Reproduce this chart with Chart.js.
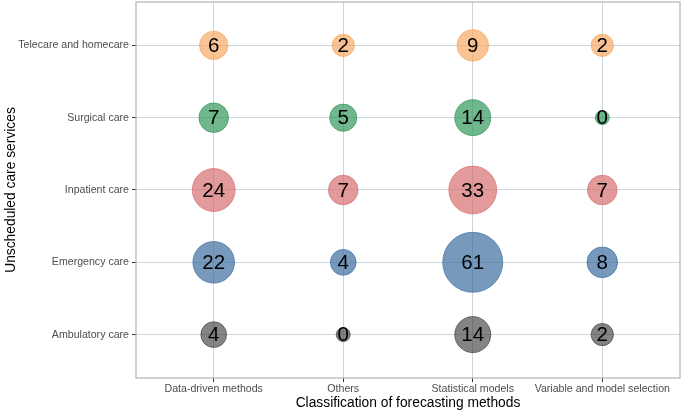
<!DOCTYPE html>
<html>
<head>
<meta charset="utf-8">
<script src="https://cdn.jsdelivr.net/npm/chart.js@4"></script>
<style>
html,body{margin:0;padding:0;background:#fff;}
#wrap{width:683px;height:413px;position:relative;}
</style>
</head>
<body>
<div id="wrap"><canvas id="c" width="683" height="413"></canvas></div>
<script>
const methods = ["Data-driven methods", "Others", "Statistical models", "Variable and model selection"];
const services = ["Ambulatory care", "Emergency care", "Inpatient care", "Surgical care", "Telecare and homecare"];
const ambulatory = [4, 0, 14, 2];
const emergency = [22, 4, 61, 8];
const inpatient = [24, 7, 33, 7];
const surgical = [7, 5, 14, 0];
const telecare = [6, 2, 9, 2];
const seriesValues = [ambulatory, emergency, inpatient, surgical, telecare];

const fills = ["rgba(50,50,50,0.6)", "rgba(60,110,160,0.7)", "rgba(214,106,106,0.68)", "rgba(46,149,87,0.68)", "rgba(247,167,96,0.68)"];
const borders = ["rgba(50,50,50,0.75)", "rgba(60,110,160,0.85)", "rgba(214,106,106,0.85)", "rgba(46,149,87,0.85)", "rgba(247,167,96,0.85)"];

const maxVal = Math.max(...seriesValues.flat());
const rMin = 7, rMax = 30;
function sizeScale(v){ return rMin + (rMax - rMin) * Math.sqrt(v / maxVal); }

const datasets = services.map((s, j) => ({
  label: s,
  data: seriesValues[j].map((v, i) => ({x: i, y: j, v: v})),
  backgroundColor: fills[j],
  borderColor: borders[j],
  borderWidth: 0.8,
  radius: ctx => sizeScale(ctx.raw.v),
  hoverRadius: 0,
  clip: false
}));

const labelPlugin = {
  id: 'labels',
  afterDatasetsDraw(chart){
    const ctx = chart.ctx;
    ctx.save();
    ctx.fillStyle = '#000';
    ctx.font = '20.5px "Liberation Sans", Arial, sans-serif';
    ctx.textAlign = 'center';
    ctx.textBaseline = 'middle';
    chart.data.datasets.forEach((ds, di) => {
      const meta = chart.getDatasetMeta(di);
      meta.data.forEach((el, i) => {
        ctx.fillText(String(ds.data[i].v), el.x, el.y + 1);
      });
    });
    ctx.restore();
  }
};
const borderPlugin = {
  id: 'panelBorder',
  afterDraw(chart){
    const a = chart.chartArea, ctx = chart.ctx;
    ctx.save();
    ctx.strokeStyle = '#b3b3b3';
    ctx.lineWidth = 1.2;
    ctx.strokeRect(a.left, a.top, a.right - a.left, a.bottom - a.top);
    ctx.restore();
  }
};

const tickFont = {family: '"Liberation Sans", Arial, sans-serif', size: 10.6};
const titleFont = {family: '"Liberation Sans", Arial, sans-serif', size: 13.8};

new Chart(document.getElementById('c'), {
  type: 'bubble',
  data: {datasets},
  plugins: [labelPlugin, borderPlugin],
  options: {
    responsive: false,
    animation: false,
    events: [],
    layout: {autoPadding: false, padding: {top: 2, right: 3, left: 0, bottom: 0}},
    plugins: {legend: {display: false}, tooltip: {enabled: false}},
    scales: {
      x: {
        type: 'linear', min: -0.6, max: 3.6,
        afterBuildTicks: s => { s.ticks = methods.map((m, i) => ({value: i})); },
        afterFit: s => { s.height = 35; s.paddingRight = 0; s.paddingLeft = 0; },
        ticks: {callback: v => methods[v], color: '#4d4d4d', font: tickFont, padding: 1, maxRotation: 0, autoSkip: false},
        grid: {color: '#cbd7de', lineWidth: 1, tickColor: '#333', tickLength: 4, drawOnChartArea: true},
        border: {display: false},
        title: {display: true, text: 'Classification of forecasting methods', color: '#000', font: titleFont, padding: {top: 0, bottom: 2}}
      },
      y: {
        type: 'linear', min: -0.6, max: 4.6,
        afterBuildTicks: s => { s.ticks = services.map((m, i) => ({value: i})); },
        afterFit: s => { s.width = 136; s.paddingTop = 0; s.paddingBottom = 0; },
        ticks: {callback: v => services[v], color: '#4d4d4d', font: tickFont, padding: 3, autoSkip: false},
        grid: {color: '#cbd7de', lineWidth: 1, tickColor: '#333', tickLength: 4},
        border: {display: false},
        title: {display: true, text: 'Unscheduled care services', color: '#000', font: titleFont, padding: {top: 3, bottom: 0}}
      }
    }
  }
});
</script>
</body>
</html>
